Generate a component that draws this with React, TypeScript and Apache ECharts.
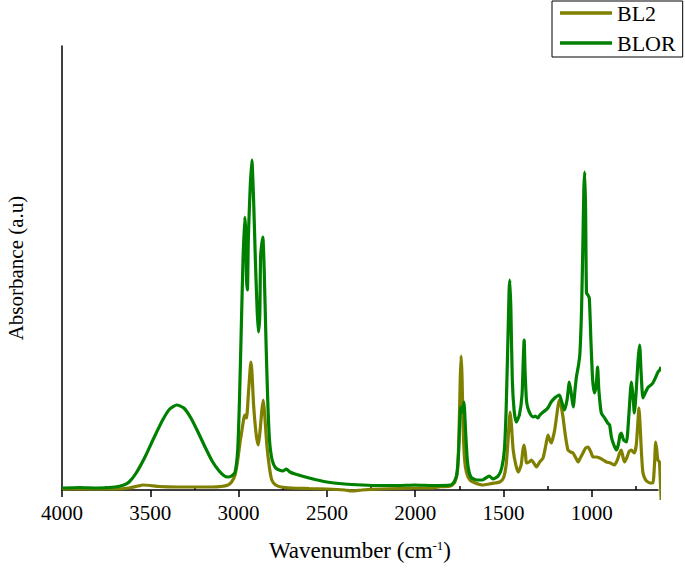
import React, { useEffect, useRef } from "react";
import * as echarts from "echarts";

// Wavenumber (cm-1) and absorbance (arbitrary units; axis spans 0..444)
const blorWn = [4000, 3900, 3800, 3700, 3650, 3620, 3580, 3530, 3480, 3430, 3390, 3350, 3310, 3270, 3230, 3190, 3150, 3110, 3080, 3060, 3040, 3020, 3005, 2995, 2985, 2975, 2965, 2960, 2955, 2950, 2945, 2935, 2925, 2915, 2905, 2895, 2888, 2880, 2875, 2863, 2855, 2845, 2835, 2825, 2810, 2790, 2770, 2750, 2730, 2710, 2680, 2600, 2500, 2400, 2300, 2200, 2100, 2000, 1900, 1800, 1780, 1765, 1755, 1748, 1742, 1733, 1724, 1715, 1705, 1695, 1680, 1650, 1620, 1580, 1560, 1530, 1510, 1495, 1485, 1475, 1468, 1464, 1458, 1450, 1440, 1428, 1410, 1395, 1388, 1383, 1378, 1370, 1362, 1345, 1330, 1320, 1305, 1294, 1275, 1260, 1249, 1230, 1210, 1195, 1183, 1170, 1155, 1140, 1127, 1115, 1105, 1095, 1087, 1075, 1067, 1058, 1050, 1045, 1040, 1035, 1030, 1022, 1014, 1005, 995, 985, 975, 967, 960, 946, 927, 910, 899, 889, 875, 861, 850, 840, 833, 820, 804, 790, 776, 765, 759, 748, 738, 729, 720, 710, 695, 680, 665, 654, 640, 625, 615, 607];
const blorAbs = [2, 2.5, 2, 3, 5, 8, 17, 33, 52, 70, 81, 85, 82, 72, 58, 43, 29, 19, 14, 13, 14, 18, 40, 90, 160, 230, 273, 260, 210, 200, 250, 300, 330, 290, 230, 180, 158, 175, 235, 253, 220, 150, 90, 50, 30, 22, 20, 19, 21, 18, 16, 12, 8, 6, 5, 4.5, 4.5, 5, 4.5, 5, 8, 15, 35, 65, 83, 78, 88, 60, 30, 18, 12, 10, 10, 14, 11, 14, 22, 40, 80, 150, 200, 210, 180, 110, 80, 68, 75, 95, 130, 150, 120, 90, 82, 75, 73, 74, 72, 75, 78, 80, 82, 88, 92, 94, 95, 88, 80, 90, 108, 95, 83, 100, 113, 125, 137, 180, 250, 300, 318, 280, 197, 195, 192, 150, 110, 97, 105, 123, 100, 77, 72, 67, 65, 53, 45, 40, 45, 55, 57, 50, 48, 75, 108, 90, 77, 100, 130, 145, 115, 92, 98, 103, 105, 107, 112, 118, 120, 123];

const bl2Wn = [4000, 3800, 3700, 3620, 3570, 3540, 3500, 3450, 3350, 3250, 3150, 3100, 3060, 3040, 3020, 3005, 2990, 2985, 2970, 2963, 2955, 2945, 2935, 2931, 2925, 2915, 2900, 2888, 2878, 2868, 2860, 2852, 2840, 2825, 2812, 2790, 2760, 2700, 2600, 2500, 2400, 2360, 2300, 2200, 2100, 2000, 1900, 1860, 1800, 1775, 1760, 1752, 1745, 1740, 1735, 1728, 1720, 1710, 1690, 1660, 1617, 1580, 1550, 1521, 1500, 1485, 1474, 1467, 1462, 1455, 1445, 1430, 1417, 1400, 1390, 1383, 1375, 1370, 1355, 1342, 1325, 1313, 1295, 1276, 1260, 1248, 1238, 1229, 1220, 1210, 1198, 1185, 1175, 1163, 1150, 1135, 1120, 1106, 1090, 1078, 1065, 1050, 1035, 1021, 1005, 993, 975, 955, 935, 917, 895, 871, 855, 840, 833, 822, 814, 800, 790, 776, 765, 759, 748, 738, 733, 725, 718, 710, 695, 682, 668, 654, 645, 638, 632, 626, 617, 612, 607];
const bl2Abs = [1, 1, 1, 2, 4, 5, 4.5, 3.5, 3, 3, 3, 3.5, 5, 8, 15, 30, 50, 55, 72, 75, 72, 95, 120, 128, 120, 85, 55, 45, 60, 80, 90, 75, 45, 22, 10, 5, 3, 2, 1.5, 1, 0, -1, 0, 1, 1.5, 2, 2, 3.3, 4, 8, 20, 55, 110, 134, 115, 60, 30, 18, 10, 7, 5, 6, 7, 8, 12, 25, 50, 70, 78, 65, 40, 25, 18, 25, 40, 45, 35, 27, 28, 30, 26, 23, 28, 32, 45, 55, 50, 47, 52, 60, 75, 90, 85, 73, 55, 40, 38, 37, 32, 28, 32, 37, 42, 43, 38, 33, 33, 32, 30, 28, 27, 25, 30, 38, 40, 32, 28, 33, 38, 40, 38, 37, 45, 70, 82, 60, 35, 17, 10, 8, 7, 7, 25, 48, 40, 30, 28, 10, -10];

const majorTicks = [1000, 1500, 2000, 2500, 3000, 3500, 4000];
const minorTicks = [750, 1250, 1750, 2250, 2750, 3250, 3750];

const seriesNames = ["BL2", "BLOR"];
const seriesColors = ["#808000", "#008000"];

const FONT = "'Liberation Serif', 'Times New Roman', serif";
const LEGEND_LINE = "path://M0,0L0.01,0L0,0.01Z M0,5.25L52,5.25L52,8.75L0,8.75Z M52,14L51.99,14L52,13.99Z";

export default function App() {
  const ref = useRef<HTMLDivElement>(null);
  useEffect(() => {
    if (!ref.current) return;
    const chart = echarts.init(ref.current, null, { renderer: "svg" });
    const zip = (xs: number[], ys: number[]) => xs.map((x, i) => [x, ys[i]]);
    const xBase = {
      type: "value",
      inverse: true,
      min: 625,
      max: 4000,
      splitLine: { show: false },
    };
    chart.setOption({
      animation: false,
      backgroundColor: "#ffffff",
      grid: { left: 62, right: 27, top: 46, bottom: 80, containLabel: false, outerBoundsMode: "none" },
      legend: {
        orient: "vertical",
        left: 552,
        top: 1,
        padding: [1, 7, 3, 8],
        itemWidth: 52,
        itemHeight: 14,
        itemGap: 8,
        borderColor: "#000",
        borderWidth: 1,
        backgroundColor: "#fff",
        symbolKeepAspect: false,
        textStyle: { fontFamily: FONT, fontSize: 22, lineHeight: 20, color: "#000" },
        data: seriesNames.map((n) => ({ name: n, icon: LEGEND_LINE })),
      },
      xAxis: [
        {
          ...xBase,
          name: "Wavenumber (cm{sup|-1})",
          nameLocation: "middle",
          nameGap: 49,
          nameTextStyle: {
            fontFamily: FONT,
            fontSize: 23,
            color: "#000",
            rich: {
              sup: { fontFamily: FONT, fontSize: 13, color: "#000", verticalAlign: "top", lineHeight: 12 },
            },
          },
          axisLine: { show: true, onZero: false, lineStyle: { color: "#000", width: 1.5 } },
          axisTick: { show: true, customValues: majorTicks, length: 7, lineStyle: { color: "#000", width: 1.5 } },
          axisLabel: {
            customValues: majorTicks,
            formatter: (v: number) => String(v),
            margin: 12,
            fontFamily: FONT,
            fontSize: 21,
            color: "#000",
          },
        },
        {
          ...xBase,
          axisLine: { show: false },
          axisLabel: { show: false },
          axisTick: { show: true, customValues: minorTicks, length: 4, lineStyle: { color: "#000", width: 1.5 } },
        },
      ],
      yAxis: {
        type: "value",
        min: 0,
        max: 444,
        name: "Absorbance (a.u)",
        nameLocation: "middle",
        nameGap: 36,
        nameTextStyle: { fontFamily: FONT, fontSize: 21, color: "#000" },
        axisLine: { show: true, lineStyle: { color: "#000", width: 1.5 } },
        axisTick: { show: false },
        axisLabel: { show: false },
        splitLine: { show: false },
      },
      series: [
        {
          name: seriesNames[0],
          type: "line",
          data: zip(bl2Wn, bl2Abs),
          symbol: "none",
          clip: false,
          smooth: 0.2,
          lineStyle: { color: seriesColors[0], width: 3.2 },
          itemStyle: { color: seriesColors[0] },
        },
        {
          name: seriesNames[1],
          type: "line",
          data: zip(blorWn, blorAbs),
          symbol: "none",
          clip: false,
          smooth: 0.2,
          lineStyle: { color: seriesColors[1], width: 3.2 },
          itemStyle: { color: seriesColors[1] },
        },
      ],
    });
    return () => chart.dispose();
  }, []);
  return <div ref={ref} style={{ width: 685, height: 570, position: "absolute", left: 0, top: 0 }} />;
}
